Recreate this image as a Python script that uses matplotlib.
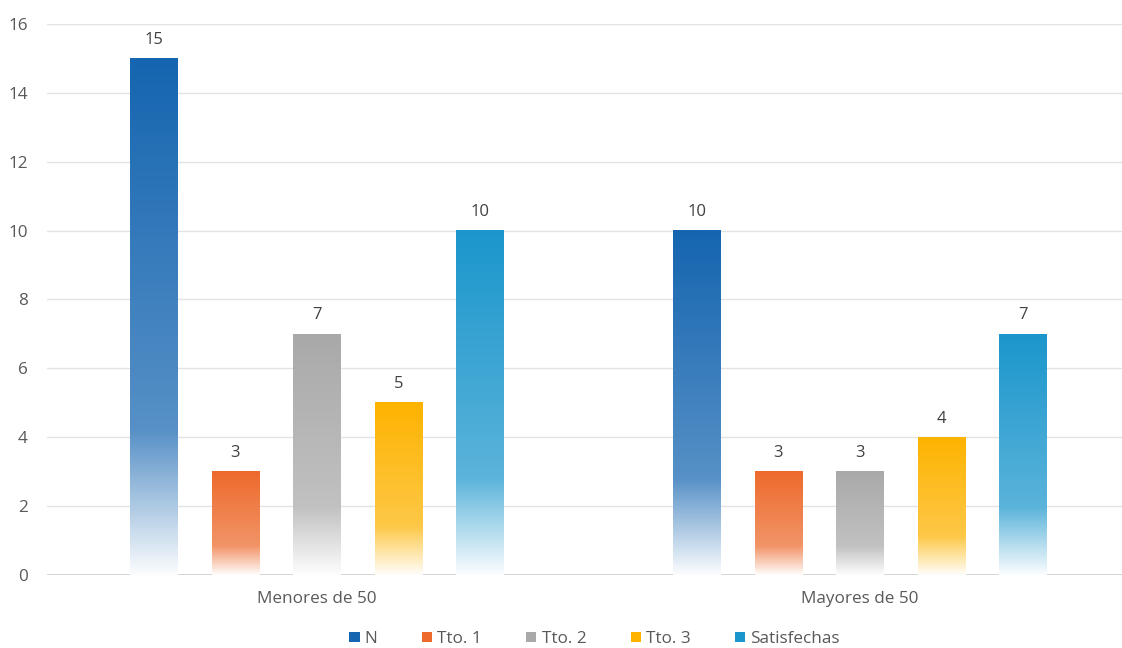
import numpy as np
import matplotlib.pyplot as plt
from matplotlib.patches import Patch
from matplotlib.colors import to_rgb

plt.rcParams['font.family'] = ['Open Sans', 'DejaVu Sans']

# 数据
grupos = ['Menores de 50', 'Mayores de 50']
series = ['N', 'Tto. 1', 'Tto. 2', 'Tto. 3', 'Satisfechas']
valores = [
    [15, 10],   # N
    [3, 3],     # Tto. 1
    [7, 3],     # Tto. 2
    [5, 4],     # Tto. 3
    [10, 7],    # Satisfechas
]
colores = ['#1565b0', '#ed6a2c', '#a9a9a9', '#fdb300', '#1b96cc']


def gradiente(color, n=200):
    # color sólido arriba, se desvanece hacia blanco abajo
    c = np.array(to_rgb(color))
    f = np.linspace(0, 1, n)[:, None]   # 0 arriba, 1 abajo
    w = np.where(f < 0.72, 0.28 * f / 0.72, 0.28 + 0.70 * (f - 0.72) / 0.28)
    rgb = c * (1 - w) + np.ones(3) * w
    img = np.ones((n, 1, 4))
    img[:, :, :3] = rgb[:, None, :]
    return img


fig = plt.figure(figsize=(11.22, 6.48), dpi=100)
ax = fig.add_axes([0.042, 0.113, 0.958, 0.85])

x = np.arange(len(grupos))
paso = 0.15
ancho = 0.087

for j, (nombre, vals, col) in enumerate(zip(series, valores, colores)):
    pos = x + (j - 2) * paso
    barras = ax.bar(pos, vals, ancho, color='none', edgecolor='none', zorder=2)
    for b, v in zip(barras, vals):
        x0 = b.get_x()
        ax.imshow(gradiente(col), extent=[x0, x0 + b.get_width(), 0, v],
                  aspect='auto', zorder=2, interpolation='bilinear')
        ax.text(b.get_x() + b.get_width() / 2, v + 0.3, str(v), ha='center',
                va='bottom', fontsize=12, color='#404040')

ax.set_xlim(-0.497, 1.483)
ax.set_ylim(0, 16)
ax.set_yticks(range(0, 17, 2))
ax.set_xticks(x)
ax.set_xticklabels(grupos)
ax.tick_params(axis='both', length=0, labelsize=12.3, colors='#595959')
ax.tick_params(axis='x', pad=12)
ax.tick_params(axis='y', pad=14)
for s in ax.spines.values():
    s.set_visible(False)
ax.yaxis.grid(True, color='#e3e3e3', linewidth=1)
ax.axhline(0, color='#d0d0d0', linewidth=1.2, zorder=1)
ax.set_axisbelow(True)

handles = [Patch(facecolor=c, edgecolor='none', label=s) for s, c in zip(series, colores)]
fig.legend(handles=handles, loc='lower center', ncol=5, frameon=False,
           bbox_to_anchor=(0.53, -0.022), fontsize=12.3, handlelength=0.6,
           handleheight=0.5, handletextpad=0.3, columnspacing=2.6,
           labelcolor='#595959')

fig.savefig('out.png', dpi=100)
